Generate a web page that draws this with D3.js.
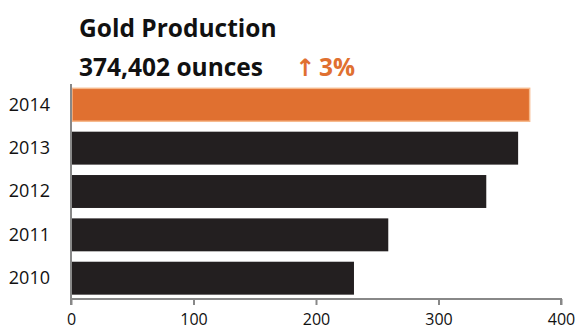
<!DOCTYPE html>
<html>
<head>
<meta charset="utf-8">
<script src="https://cdn.jsdelivr.net/npm/d3@7"></script>
<style>
  body { margin: 0; background: #fff; }
  svg { display: block; font-family: "Open Sans", sans-serif; }
</style>
</head>
<body>
<div id="chart"></div>
<script>
const years = ['2014', '2013', '2012', '2011', '2010'];
const ounces = [374.402, 365, 339, 259, 231];
const xTicks = [0, 100, 200, 300, 400];
const title = 'Gold Production';
const subtitle = '374,402 ounces';
const arrow = '\u2191';
const change = '3%';

const width = 576, height = 331;
const margin = { top: 84, right: 15, bottom: 32, left: 71 };
const innerWidth = width - margin.left - margin.right;
const innerHeight = height - margin.top - margin.bottom;

const svg = d3.select('#chart')
  .append('svg')
  .attr('width', width)
  .attr('height', height);

// Title
svg.append('text')
  .attr('x', 79).attr('y', 37)
  .attr('font-size', 24.5).attr('font-weight', 700).attr('fill', '#111')
  .text(title);

svg.append('text')
  .attr('x', 79).attr('y', 76)
  .attr('font-size', 24.5).attr('font-weight', 700).attr('fill', '#111')
  .text(subtitle);

const delta = svg.append('text')
  .attr('x', 295).attr('y', 76)
  .attr('font-weight', 700).attr('fill', '#e07030');
delta.append('tspan')
  .attr('font-family', '"DejaVu Sans", sans-serif')
  .attr('font-size', 24)
  .text(arrow);
delta.append('tspan')
  .attr('dx', 4)
  .attr('font-size', 24.5)
  .text(change);

const g = svg.append('g')
  .attr('transform', `translate(${margin.left},${margin.top})`);

const x = d3.scaleLinear()
  .domain([0, 400])
  .range([0, innerWidth]);

const y = d3.scaleBand()
  .domain(years)
  .range([0, innerHeight])
  .paddingInner(0.24)
  .paddingOuter(0.1);

// Bars
g.selectAll('.bar')
  .data(years)
  .enter()
  .append('rect')
  .attr('class', 'bar')
  .attr('x', 1)
  .attr('y', d => y(d))
  .attr('width', (d, i) => x(ounces[i]) - 1)
  .attr('height', y.bandwidth())
  .attr('fill', (d, i) => i === 0 ? '#e07030' : '#231f20')
  .attr('stroke', (d, i) => i === 0 ? '#f6b98c' : 'none')
  .attr('stroke-width', 1.5);

// X Axis
const xAxis = g.append('g')
  .attr('transform', `translate(0,${innerHeight})`)
  .call(d3.axisBottom(x).tickValues(xTicks).tickSize(6).tickPadding(9));

xAxis.select('.domain').attr('stroke', '#888').attr('stroke-width', 2)
  .attr('d', `M0,6V0H${innerWidth}V6`);
xAxis.selectAll('.tick line').attr('stroke', '#888').attr('stroke-width', 2);
xAxis.selectAll('text')
  .attr('font-size', 16)
  .attr('font-family', '"Open Sans", sans-serif')
  .attr('fill', '#111');

// Y Axis
const yAxis = g.append('g')
  .call(d3.axisLeft(y).tickSize(0).tickPadding(21));

yAxis.select('.domain').attr('stroke', '#888').attr('stroke-width', 2)
  .attr('d', `M0,0V${innerHeight}`);
yAxis.selectAll('text')
  .attr('font-size', 18)
  .attr('font-family', '"Open Sans", sans-serif')
  .attr('fill', '#111');
</script>
</body>
</html>
